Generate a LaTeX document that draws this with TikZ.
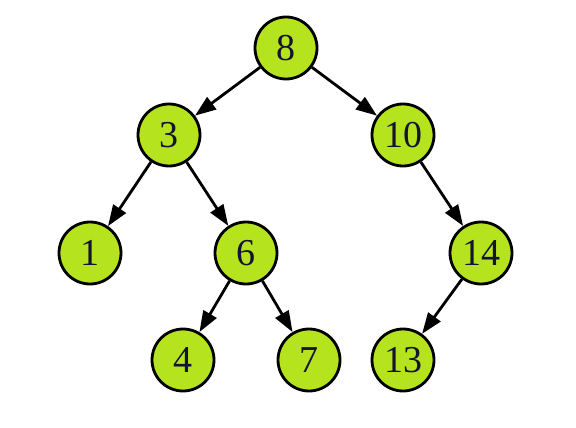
\documentclass[tikz,border=0pt]{standalone}
\usepackage{fontspec}
\setmainfont{Liberation Serif}
\usetikzlibrary{arrows.meta}
\definecolor{nodegreen}{RGB}{181,228,30}
\definecolor{txt}{RGB}{20,20,50}
\begin{document}
\begin{tikzpicture}[x=1pt,y=-1pt,
  tn/.style={circle,draw=black,line width=2.8pt,fill=nodegreen,minimum size=62pt,inner sep=0pt,
    font=\fontsize{38}{38}\selectfont,text=txt},
  edge/.style={line width=2.8pt,-{Triangle[length=21pt 0 0,width=15pt 0 0]}}]
\useasboundingbox (0,0) rectangle (576,428);
\node[tn] (n8) at (286,48) {8};
\node[tn] (n3) at (169,135) {3};
\node[tn] (n10) at (403,135) {10};
\node[tn] (n1) at (90,253) {1};
\node[tn] (n6) at (246,253) {6};
\node[tn] (n14) at (481,253) {14};
\node[tn] (n4) at (183,360) {4};
\node[tn] (n7) at (309,360) {7};
\node[tn] (n13) at (403,360) {13};
\draw[edge] (n8) -- (n3);
\draw[edge] (n8) -- (n10);
\draw[edge] (n3) -- (n1);
\draw[edge] (n3) -- (n6);
\draw[edge] (n10) -- (n14);
\draw[edge] (n6) -- (n4);
\draw[edge] (n6) -- (n7);
\draw[edge] (n14) -- (n13);
\end{tikzpicture}
\end{document}
